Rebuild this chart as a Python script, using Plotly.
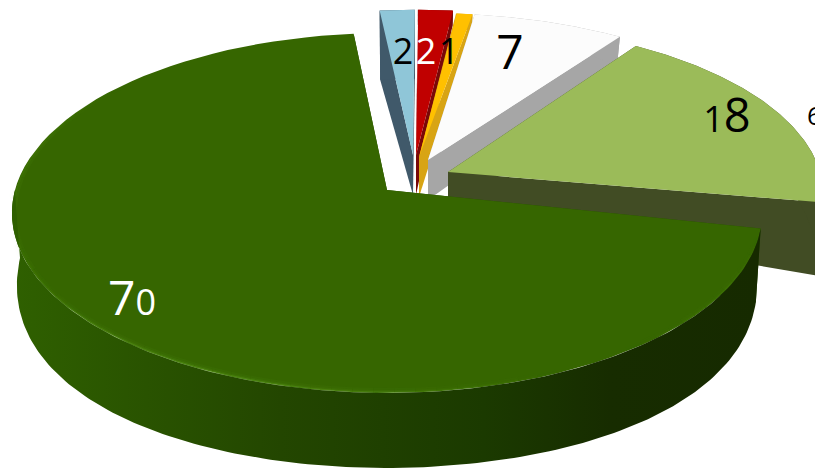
import math
import numpy as np
import plotly.graph_objects as go

# --- data (clockwise from the right-hand edge of the big slice)
slice_values = [70.0, 1.7, 1.7, 0.8, 7.4, 18.4]
label_colors = ["#ffffff", "#000000", "#ffffff", "#000000", "#000000", "#000000"]
clipped_label = "6"

# --- style
top_colors = ["#366600", "#8fc6d8", "#c00000", "#ffc000", "#fcfcfc", "#9bbb59"]
wall_colors = ["#264c00", "#40596a", "#7a0808", "#d8a414", "#a6a6a6", "#414c24"]
rim_gradient = [[0, "#2f6000"], [0.36, "#234600"], [0.63, "#1b3a00"], [0.8, "#172c00"], [1, "#162a00"]]
explode_x = [0, 26, 29, 32, 41, 61]
explode_y = [0, -35, -35, -33, -30, -18]
scale_y = [1.0, 0.925, 0.925, 0.92, 0.936, 0.95]
rotate = [0, 0, 0, 0, -1.2, -2]
back_depth = [25, -29, 25, 25, 25, 25]
label_x = [132, 403, 426, 449, 510, 727]
label_y = [303, 55, 55, 55, 57, 120]
label_size = [48, 36, 36, 36, 48, 47]
small_digit_size = 36

W, H = 815, 471
CX, CY, RX, RY, P = 387, 190, 372, 177, 0.128
START = 102.2


def project(theta, radius, sl, base=False):
    """Perspective position of a polar point on the disc top (or its base)."""
    t = np.radians(np.asarray(theta, dtype=float) + rotate[sl])
    X, Y = radius * np.sin(t), radius * np.cos(t)
    w = 1 + P * Y
    sx = CX + explode_x[sl] + RX * X / w
    sy = CY + explode_y[sl] - RY * scale_y[sl] * Y / w
    if base:
        sy = sy + 40 + 28 * X ** 2 - np.where(Y > 0, back_depth[sl], 35) * Y
        sx = sx - 5 * X
    return sx, sy


fig = go.Figure()


def poly(x, y, color=None, gradient=None):
    kw = dict(fillgradient=gradient) if gradient else dict(fillcolor=color)
    fig.add_trace(go.Scatter(x=list(x), y=list(y), mode="lines", fill="toself",
                             line=dict(width=0), hoverinfo="skip", showlegend=False, **kw))


def stroke(x, y, color, width):
    fig.add_trace(go.Scatter(x=x, y=y, mode="lines", hoverinfo="skip", showlegend=False,
                             line=dict(color=color, width=width)))


def rim_face(i, th, gradient=None):
    tx, ty = project(th, 1.0, i)
    bx, by = project(th, 1.0, i, base=True)
    poly(list(tx) + list(bx[::-1]), list(ty) + list(by[::-1]), wall_colors[i], gradient)


angles = []
a = START
for v in slice_values:
    angles.append((a, a + v * 3.6))
    a += v * 3.6


def draw_slice(i):
    a0, a1 = angles[i]
    th = np.linspace(a0, a1, 90)
    ax_t, ay_t = project(th[0], 0.0, i)
    ax_b, ay_b = project(th[0], 0.0, i, base=True)
    for edge in (a0, a1):
        rx_t, ry_t = project(edge, 1.0, i)
        rx_b, ry_b = project(edge, 1.0, i, base=True)
        poly([ax_t, rx_t, rx_b, ax_b], [ay_t, ry_t, ry_b, ay_b], wall_colors[i])
    if i != 0:
        rim_face(i, th)
    tx, ty = project(th, 1.0, i)
    poly([ax_t] + list(tx), [ay_t] + list(ty), top_colors[i])


for i in [1, 2, 3, 4, 5, 0]:
    draw_slice(i)

# soft lit bevel on the near rim of the big slice; the wall then cuts it crisp
a0, a1 = angles[0]
edges = np.linspace(a0, 270, 60)
for j in range(len(edges) - 1):
    mid = 0.5 * (edges[j] + edges[j + 1])
    glow = max(0.0, math.cos(math.radians(90 * (mid - 205) / 50)))
    right_glow = 0.3 * max(0.0, math.cos(math.radians(90 * (mid - 125) / 20)))
    level = max(glow, right_glow)
    if level < 0.02:
        continue
    seg = np.linspace(edges[j], edges[j + 1], 5)
    sx, sy = project(seg, 1.0, 0)
    for width, alpha in [(10, 0.06), (6, 0.10), (3, 0.35)]:
        stroke(sx, sy, f"rgba(104,170,40,{alpha * level:.3f})", width)

# lighter left edge of the big slice
edges = np.linspace(235, 310, 24)
for j in range(len(edges) - 1):
    mid = 0.5 * (edges[j] + edges[j + 1])
    level = max(0.0, math.cos(math.radians(90 * (mid - 272) / 38)))
    seg = np.linspace(edges[j], edges[j + 1], 5)
    for r, width, alpha in [(0.992, 4, 0.10), (0.996, 2, 0.14)]:
        sx, sy = project(seg, r, 0)
        stroke(sx, sy, f"rgba(90,150,20,{alpha * level:.3f})", width)

rim_face(0, np.linspace(a0, 270, 160), dict(type="horizontal", colorscale=rim_gradient))


def label_text(v):
    """Old-style figures: a one or a nought sits at x-height next to a tall digit."""
    s = str(int(v + 0.5))
    if len(s) == 1:
        return s
    return "".join(
        f'<span style="font-size:{small_digit_size}px">{c}</span>' if c in "01" else c for c in s
    )


fig.add_trace(go.Scatter(
    x=label_x, y=label_y, mode="text", hoverinfo="skip", showlegend=False,
    text=[label_text(v) for v in slice_values],
    textfont=dict(family="Open Sans", size=label_size, color=label_colors),
))
fig.add_trace(go.Scatter(
    x=[W - 8], y=[118], mode="text", hoverinfo="skip", showlegend=False,
    text=[clipped_label], textposition="middle right",
    textfont=dict(family="Open Sans", size=26, color="#000000"),
))

fig.update_layout(
    width=W, height=H, margin=dict(l=0, r=0, t=0, b=0),
    paper_bgcolor="white", plot_bgcolor="white", showlegend=False,
    xaxis=dict(range=[0, W], visible=False, fixedrange=True),
    yaxis=dict(range=[H, 0], visible=False, fixedrange=True),
)
fig.write_html("out.html", config=dict(displayModeBar=False),
               post_script="document.body.style.margin='0';document.body.style.overflow='hidden';")
